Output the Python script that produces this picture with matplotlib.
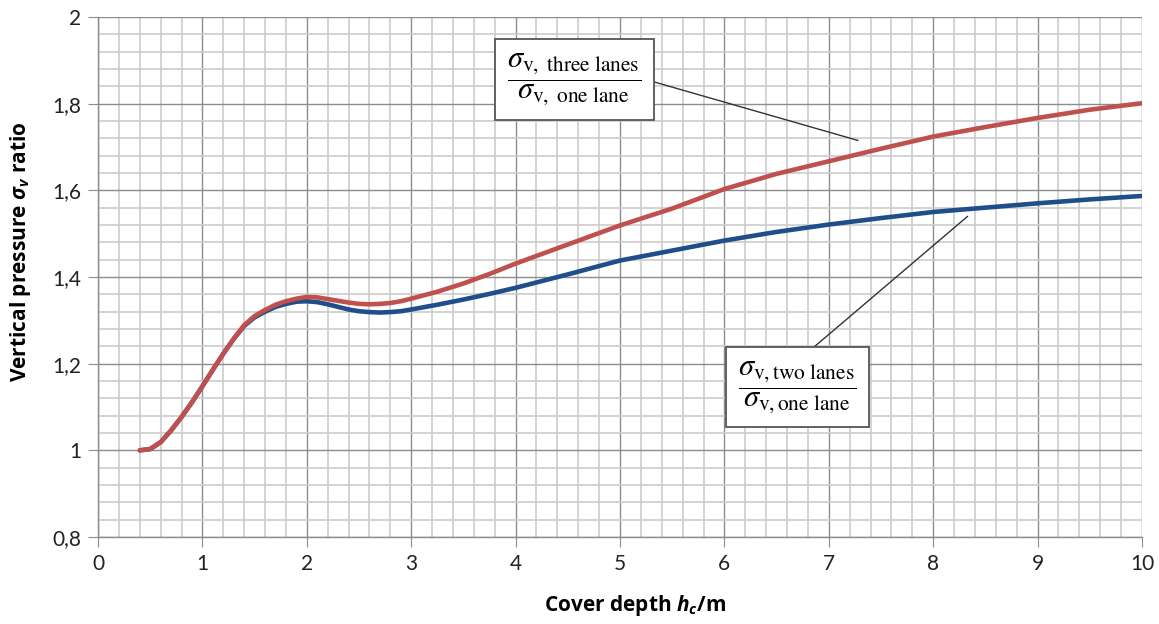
import matplotlib
matplotlib.use("Agg")
import matplotlib.pyplot as plt
from matplotlib.ticker import MultipleLocator, FuncFormatter

# cover depth h_c [m]
depth = [0.4, 0.5, 0.6, 0.7, 0.8, 0.9, 1.0, 1.1, 1.2, 1.3, 1.4, 1.5, 1.6, 1.7, 1.8, 1.9,
         2.0, 2.1, 2.2, 2.3, 2.4, 2.5, 2.6, 2.7, 2.8, 2.9, 3.0, 3.25, 3.5, 3.75, 4.0,
         4.5, 5.0, 5.5, 6.0, 6.5, 7.0, 7.5, 8.0, 8.5, 9.0, 9.5, 10.0]

# ratio sigma_v(two lanes) / sigma_v(one lane)
two_lanes = [1.0, 1.003, 1.019, 1.046, 1.077, 1.111, 1.148, 1.186, 1.223, 1.257, 1.287,
             1.307, 1.320, 1.331, 1.338, 1.343, 1.344, 1.342, 1.337, 1.331, 1.325, 1.321,
             1.319, 1.318, 1.319, 1.321, 1.325, 1.336, 1.348, 1.361, 1.375,
             1.406, 1.438, 1.461, 1.484, 1.504, 1.521, 1.536, 1.550, 1.560, 1.570, 1.579, 1.587]

# ratio sigma_v(three lanes) / sigma_v(one lane)
three_lanes = [1.0, 1.003, 1.019, 1.046, 1.077, 1.111, 1.148, 1.186, 1.223, 1.258, 1.289,
               1.310, 1.324, 1.336, 1.344, 1.350, 1.354, 1.353, 1.349, 1.345, 1.341, 1.338,
               1.337, 1.338, 1.340, 1.344, 1.350, 1.366, 1.385, 1.407, 1.431,
               1.475, 1.519, 1.558, 1.603, 1.638, 1.667, 1.696, 1.724, 1.746, 1.767, 1.786, 1.801]

label_three = r"$\dfrac{\sigma_{\mathrm{v,\ three\ lanes}}}{\sigma_{\mathrm{v,\ one\ lane}}}$"
label_two = r"$\dfrac{\sigma_{\mathrm{v,two\ lanes}}}{\sigma_{\mathrm{v,one\ lane}}}$"

plt.rcParams['font.family'] = ['Lato', 'DejaVu Sans']
plt.rcParams['mathtext.fontset'] = 'custom'
plt.rcParams['mathtext.it'] = 'Open Sans:italic:bold'
plt.rcParams['mathtext.rm'] = 'Open Sans:bold'
plt.rcParams['mathtext.fallback'] = 'stixsans'

fig = plt.figure(figsize=(11.59, 6.24), dpi=100)
ax = fig.add_axes([0.0846, 0.1394, 0.9007, 0.8334])

ax.plot(depth, two_lanes, color='#1F4E8A', lw=3.3, solid_capstyle='round', zorder=3)
ax.plot(depth, three_lanes, color='#C0504D', lw=3.3, solid_capstyle='round', zorder=4)

ax.set_xlim(0, 10)
ax.set_ylim(0.8, 2.0)
ax.xaxis.set_major_locator(MultipleLocator(1))
ax.xaxis.set_minor_locator(MultipleLocator(0.2))
ax.yaxis.set_major_locator(MultipleLocator(0.2))
ax.yaxis.set_minor_locator(MultipleLocator(0.04))
ax.yaxis.set_major_formatter(FuncFormatter(lambda v, p: f"{v:g}".replace('.', ',')))

ax.grid(True, which='major', color='#8c8c8c', lw=1.0)
ax.grid(True, which='minor', color='#cccccc', lw=1.2)
ax.set_axisbelow(True)

for s in ['top', 'right']:
    ax.spines[s].set_visible(False)
for s in ['left', 'bottom']:
    ax.spines[s].set_color('#8c8c8c')
    ax.spines[s].set_linewidth(1.0)

ax.tick_params(which='major', direction='out', length=7, color='#8c8c8c',
               labelsize=15, labelcolor='#222222', pad=5)
ax.tick_params(which='minor', length=0)

ax.set_xlabel(r"Cover depth $h_c$/m", fontsize=15, fontweight='bold', family='Open Sans')
ax.set_ylabel(r"Vertical pressure $\sigma_v$ ratio", fontsize=15, fontweight='bold',
              family='Open Sans')
ax.xaxis.set_label_coords(0.514, -0.108)
ax.yaxis.set_label_coords(-0.062, 0.548)

box = dict(boxstyle='square,pad=0.4', fc='white', ec='#555555', lw=1.3)
ax.annotate(label_three, xy=(7.28, 1.715), xytext=(4.56, 1.856),
            fontsize=22, math_fontfamily='stix', ha='center', va='center', bbox=box,
            arrowprops=dict(arrowstyle='-', color='#333333', lw=1.0, shrinkA=0, shrinkB=0,
                            relpos=(1.0, 0.52)),
            zorder=5)
ax.annotate(label_two, xy=(8.33, 1.540), xytext=(6.70, 1.146),
            fontsize=22, math_fontfamily='stix', ha='center', va='center', bbox=box,
            arrowprops=dict(arrowstyle='-', color='#333333', lw=1.0, shrinkA=0, shrinkB=0,
                            relpos=(0.52, 1.0)),
            zorder=5)

fig.savefig('out.png', dpi=100)
